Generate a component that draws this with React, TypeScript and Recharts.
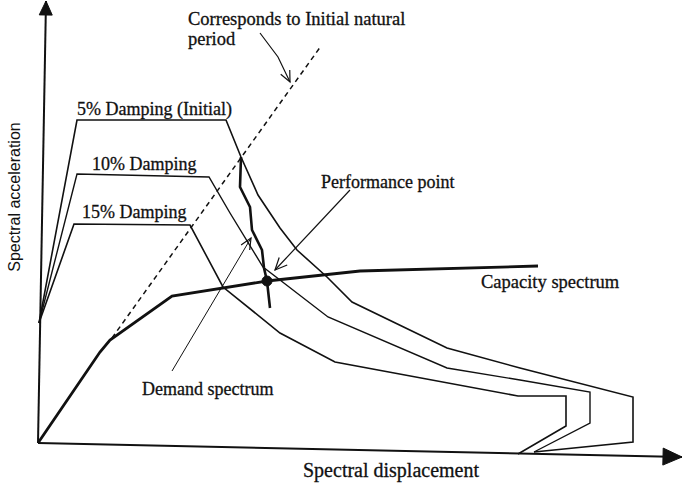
import { ComposedChart, Line, XAxis, YAxis, ReferenceDot } from 'recharts'

type P = { x: number; y: number }

// x = spectral displacement, y = spectral acceleration (arbitrary units)
const capacity: P[] = [
  { x: 0, y: 0 }, { x: 62, y: 91 }, { x: 72, y: 103 }, { x: 134, y: 147 },
  { x: 229, y: 162 }, { x: 322, y: 172 }, { x: 500, y: 177 },
]
const initialPeriod: P[] = [{ x: 74, y: 105 }, { x: 283, y: 397 }]

const damping5: P[] = [
  { x: 1, y: 120 }, { x: 39, y: 323 }, { x: 188, y: 323 }, { x: 203, y: 286 }, { x: 220, y: 248 },
  { x: 242, y: 215 }, { x: 259, y: 193 }, { x: 289, y: 166 }, { x: 314, y: 141 }, { x: 409, y: 95 },
  { x: 482, y: 75 }, { x: 595, y: 46 }, { x: 595, y: 1 }, { x: 496, y: -9 },
]
const damping10: P[] = [
  { x: 1, y: 120 }, { x: 39, y: 269 }, { x: 171, y: 266 }, { x: 192, y: 230 }, { x: 225, y: 176 },
  { x: 242, y: 163 }, { x: 290, y: 126 }, { x: 409, y: 75 }, { x: 482, y: 63 }, { x: 552, y: 51 },
  { x: 552, y: 20 }, { x: 496, y: -9 },
]
const damping15: P[] = [
  { x: 1, y: 120 }, { x: 36, y: 219 }, { x: 152, y: 218 }, { x: 185, y: 156 }, { x: 242, y: 110 },
  { x: 297, y: 81 }, { x: 480, y: 47 }, { x: 528, y: 47 }, { x: 528, y: 17 }, { x: 480, y: -11 },
]
const demandTrace: P[] = [
  { x: 203, y: 286 }, { x: 202, y: 256 }, { x: 212, y: 236 }, { x: 214, y: 213 },
  { x: 224, y: 193 }, { x: 226, y: 175 }, { x: 229, y: 162 }, { x: 232, y: 135 },
]
const perfPoint: P = { x: 229, y: 162 }

const axisX: P[] = [{ x: 0, y: 0 }, { x: 644, y: -14 }]
const axisY: P[] = [{ x: 0, y: 0 }, { x: 8, y: 442 }]

const arrowPeriod: P[] = [{ x: 222, y: 410 }, { x: 240, y: 386 }, { x: 252, y: 361 }]
const arrowPerf: P[] = [{ x: 312, y: 253 }, { x: 237, y: 173 }]
const arrowDemand: P[] = [{ x: 134, y: 72 }, { x: 213, y: 205 }]

const labels = [
  { text: 'Corresponds to Initial natural', x: 150, y: 418, size: 18.5 },
  { text: 'period', x: 150, y: 398, size: 18.5 },
  { text: '5% Damping (Initial)', x: 39, y: 328, size: 18 },
  { text: '10% Damping', x: 54, y: 273, size: 18 },
  { text: '15% Damping', x: 44, y: 225, size: 18 },
  { text: 'Performance point', x: 283, y: 255, size: 18 },
  { text: 'Capacity spectrum', x: 443, y: 155, size: 18.5 },
  { text: 'Demand spectrum', x: 104, y: 48, size: 18 },
  { text: 'Spectral displacement', x: 265, y: -34, size: 20 },
]

const INK = '#111'
const SERIF = '"Liberation Serif", "Times New Roman", serif'

function headShape(pts: P[], len: number, half: number, filled: boolean) {
  const a = pts[pts.length - 2]
  const b = pts[pts.length - 1]
  const ang = Math.atan2(-(b.y - a.y), b.x - a.x)
  return (props: any) => {
    const { cx, cy } = props
    const bx = cx - len * Math.cos(ang)
    const by = cy - len * Math.sin(ang)
    const nx = -Math.sin(ang) * half
    const ny = Math.cos(ang) * half
    if (filled) {
      return <polygon points={`${cx},${cy} ${bx + nx},${by + ny} ${bx - nx},${by - ny}`} fill={INK} stroke={INK} />
    }
    return <polyline points={`${bx + nx},${by + ny} ${cx},${cy} ${bx - nx},${by - ny}`} fill="none" stroke={INK} strokeWidth={1.2} />
  }
}

const tip = (pts: P[]) => pts[pts.length - 1]

export default function App() {
  return (
    <div style={{ position: 'absolute', left: 0, top: 0, background: '#fff' }}>
      <ComposedChart width={686} height={487} margin={{ top: 0, right: 0, bottom: 0, left: 0 }}>
        <XAxis type="number" dataKey="x" domain={[-38, 648]} hide />
        <YAxis type="number" dataKey="y" domain={[-44, 443]} hide />

        <Line data={axisX} dataKey="y" stroke={INK} strokeWidth={2} dot={false} activeDot={false} isAnimationActive={false} />
        <Line data={axisY} dataKey="y" stroke={INK} strokeWidth={2} dot={false} activeDot={false} isAnimationActive={false} />

        <Line data={initialPeriod} dataKey="y" stroke={INK} strokeWidth={1.5} strokeDasharray="5 4" dot={false} activeDot={false} isAnimationActive={false} />
        <Line data={damping5} dataKey="y" stroke={INK} strokeWidth={1.6} dot={false} activeDot={false} isAnimationActive={false} />
        <Line data={damping10} dataKey="y" stroke={INK} strokeWidth={1.4} dot={false} activeDot={false} isAnimationActive={false} />
        <Line data={damping15} dataKey="y" stroke={INK} strokeWidth={1.6} dot={false} activeDot={false} isAnimationActive={false} />
        <Line data={demandTrace} dataKey="y" stroke={INK} strokeWidth={2.6} dot={false} activeDot={false} isAnimationActive={false} />
        <Line data={capacity} dataKey="y" stroke={INK} strokeWidth={2.8} dot={false} activeDot={false} isAnimationActive={false} />

        <Line data={arrowPeriod} dataKey="y" stroke={INK} strokeWidth={1.2} dot={false} activeDot={false} isAnimationActive={false} />
        <Line data={arrowPerf} dataKey="y" stroke={INK} strokeWidth={1.2} dot={false} activeDot={false} isAnimationActive={false} />
        <Line data={arrowDemand} dataKey="y" stroke={INK} strokeWidth={1} dot={false} activeDot={false} isAnimationActive={false} />

        <ReferenceDot x={tip(axisX).x} y={tip(axisX).y} shape={headShape(axisX, 19, 8.5, true)} />
        <ReferenceDot x={tip(axisY).x} y={tip(axisY).y} shape={headShape(axisY, 14, 6.5, true)} />
        <ReferenceDot x={tip(arrowPeriod).x} y={tip(arrowPeriod).y} shape={headShape(arrowPeriod, 11, 5, false)} />
        <ReferenceDot x={tip(arrowPerf).x} y={tip(arrowPerf).y} shape={headShape(arrowPerf, 12, 5.5, false)} />
        <ReferenceDot x={tip(arrowDemand).x} y={tip(arrowDemand).y} shape={headShape(arrowDemand, 11, 5, false)} />

        <ReferenceDot x={perfPoint.x} y={perfPoint.y} r={5} fill={INK} stroke={INK} />

        {labels.map((l) => (
          <ReferenceDot
            key={l.text}
            x={l.x}
            y={l.y}
            shape={(p: any) => (
              <text x={p.cx} y={p.cy} fontFamily={SERIF} fontSize={l.size} fill={INK} stroke={INK} strokeWidth={0.3}>{l.text}</text>
            )}
          />
        ))}
        <ReferenceDot
          x={-18}
          y={246}
          shape={(p: any) => (
            <text
              x={p.cx}
              y={p.cy}
              transform={`rotate(-90 ${p.cx} ${p.cy})`}
              textAnchor="middle"
              fontFamily='"Liberation Sans", Arial, sans-serif'
              fontSize={16}
              fill={INK}
            >
              Spectral acceleration
            </text>
          )}
        />
      </ComposedChart>
    </div>
  )
}
